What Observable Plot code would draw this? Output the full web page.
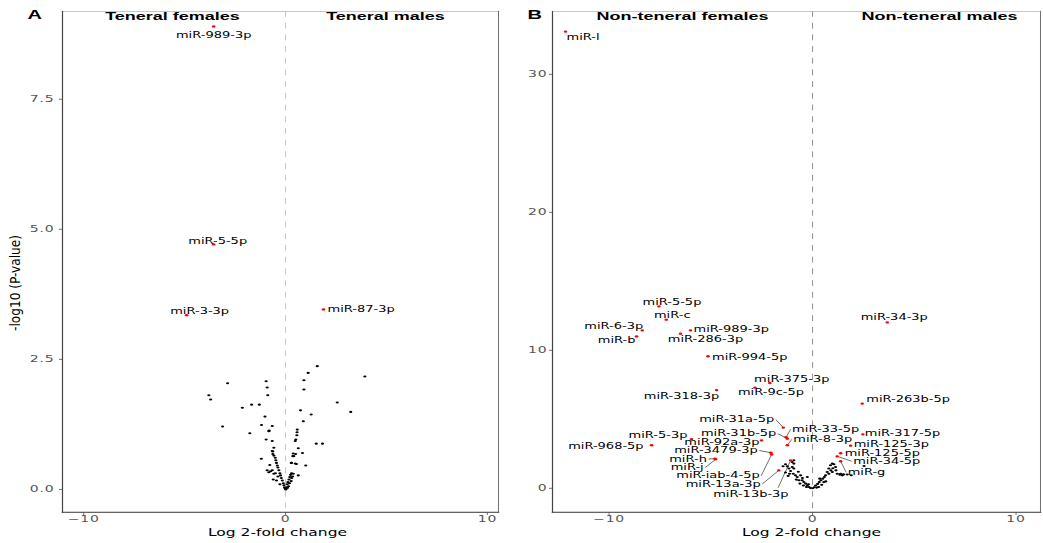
<!DOCTYPE html>
<html><head><meta charset="utf-8">
<script src="https://cdn.jsdelivr.net/npm/d3@7"></script>
<script src="https://cdn.jsdelivr.net/npm/@observablehq/plot@0.6"></script>
<style>
body{margin:0;background:#fff;}
#wrap{position:relative;width:1043px;height:543px;overflow:hidden;background:#fff;}
.panel{position:absolute;top:0;}
.panel svg{transform:scaleY(0.65);transform-origin:0 0;display:block;}
g[aria-label="x-axis tick label"] text, g[aria-label="y-axis tick label"] text{letter-spacing:0.8px;}
#ytitle{position:absolute;left:15px;top:283px;transform:translate(-50%,-50%) rotate(-90deg);font:13.5px "Liberation Sans Narrow","DejaVu Sans Condensed";white-space:nowrap;color:#000;}
</style></head><body>
<div id="wrap">
  <div class="panel" id="pA" style="left:0;width:520px"></div>
  <div class="panel" id="pB" style="left:520px;width:523px"></div>
  <div id="ytitle">-log10 (P-value)</div>
</div>
<script>
// ---------- data ----------
const xTicks = [-10, 0, 10];
const yTicksA = [0, 2.5, 5, 7.5];
const yTicksB = [0, 10, 20, 30];
const xTitle = "Log 2-fold change";
const panelTitlesA = ["Teneral females", "Teneral males"];
const panelTitlesB = ["Non-teneral females", "Non-teneral males"];
const panelLetters = ["A", "B"];

// Panel A: significant (labelled) miRNAs
const sigNamesA = ["miR-989-3p", "miR-5-5p", "miR-3-3p", "miR-87-3p"];
const sigFCA    = [-3.56, -3.56, -4.90, 1.88];
const sigPA     = [8.90, 4.71, 3.35, 3.46];

// Panel A: other miRNAs
const nsFCA = [-3.80,-3.71,-2.87,-3.12,-2.14,-1.68,-1.30,-1.77,-0.96,-0.91,-0.88,-1.02,-1.19,-0.66,-0.81,-0.96,-0.66,-0.58,-0.63,-1.20,-0.78,
  -0.66,-0.63,-0.58,-0.51,-0.48,-0.45,-0.41,-0.38,-0.33,-0.28,-0.25,-0.21,-0.16,-0.11,-0.08,-0.05,0.00,0.05,0.08,0.12,0.17,0.21,0.25,0.30,0.38,
  -0.91,-0.83,-0.74,-0.66,-0.58,-0.50,-0.61,-0.45,-0.38,-0.28,-0.83,
  1.57,1.12,3.93,0.91,0.91,2.56,3.23,0.74,1.27,0.88,0.58,0.57,0.56,0.51,0.48,1.52,1.83,0.63,0.84,0.36,0.41,0.30,0.48,1.00,0.63,0.38,0.50,0.28,0.54,
  0.30,0.35,0.28,0.20,0.15,0.10,0.02,-0.02];
const nsPA = [1.81,1.73,2.04,1.21,1.57,1.63,1.63,1.08,2.08,1.96,1.81,1.40,1.24,1.22,1.13,0.96,0.93,0.80,0.73,0.59,0.47,
  0.74,0.68,0.65,0.61,0.56,0.51,0.46,0.42,0.37,0.31,0.27,0.22,0.17,0.12,0.08,0.04,0.01,0.04,0.10,0.14,0.19,0.24,0.28,0.31,0.30,
  0.37,0.33,0.35,0.37,0.30,0.31,0.19,0.17,0.25,0.10,1.12,
  2.37,2.24,2.17,2.10,1.92,1.67,1.49,1.52,1.44,1.31,1.15,1.10,1.04,0.96,0.93,0.88,0.88,0.79,0.70,0.64,0.64,0.51,0.50,0.46,0.27,0.69,0.68,0.51,0.49,
  0.22,0.25,0.16,0.12,0.06,0.03,0.00,0.02];

// Panel B: significant (labelled) miRNAs
const sigNamesB = ["miR-l","miR-5-5p","miR-c","miR-6-3p","miR-b","miR-989-3p","miR-286-3p","miR-994-5p","miR-375-3p","miR-9c-5p",
  "miR-318-3p","miR-34-3p","miR-263b-5p","miR-317-5p","miR-125-3p","miR-125-5p","miR-34-5p","miR-g","miR-31a-5p","miR-31b-5p",
  "miR-33-5p","miR-8-3p","miR-92a-3p","miR-5-3p","miR-968-5p","miR-3479-3p","miR-iab-4-5p","miR-h","miR-j","miR-13a-3p","miR-13b-3p"];
const sigFCB = [-12.14,-7.55,-7.19,-8.37,-8.65,-6.00,-6.49,-5.14,-2.10,-2.83,
  -4.72,3.67,2.44,2.47,1.87,1.38,1.21,1.38,-1.44,-1.24,
  -1.30,-1.24,-2.51,-5.95,-7.91,-2.05,-2.01,-4.80,-4.76,-1.66,-1.08];
const sigPB = [33.10,13.19,12.22,11.45,11.01,11.45,11.21,9.57,7.63,7.30,
  7.12,12.03,6.14,3.91,3.09,2.54,2.32,1.96,4.40,3.60,
  3.70,3.12,3.48,3.57,3.12,2.58,2.45,2.15,2.10,1.30,2.03];

// Panel B: other miRNAs
const nsFCB = [-1.33,-1.24,-1.16,-1.08,-1.00,-0.95,-1.13,-0.84,-0.75,-0.59,-0.67,-0.51,-0.43,-0.34,-0.26,-0.18,-0.10,0.00,0.08,0.15,
  0.25,0.33,0.41,0.50,0.58,0.64,0.72,0.80,0.88,0.97,1.05,1.13,0.80,0.97,1.21,1.34,1.46,-0.92,-1.00,-1.33,
  -0.80,-0.62,2.53,1.38,1.52,-0.92,-0.92,-0.26,-1.45,-1.20,-0.45,-0.30,0.30,0.45,0.55,0.65,0.90,1.00,1.15,0.20,
  -0.20,-0.50,-0.70,0.35,1.70,1.90];
const nsPB = [1.74,1.59,1.43,1.26,1.55,1.06,1.06,0.94,0.82,0.94,0.58,0.58,0.46,0.34,0.22,0.10,0.02,0.00,0.08,0.20,
  0.32,0.45,0.58,0.70,0.82,0.94,1.18,1.43,1.67,1.79,1.74,1.55,1.06,1.18,1.06,0.99,0.94,2.03,1.91,1.14,
  0.63,0.34,1.62,1.06,1.01,1.79,1.43,0.82,1.60,0.90,0.20,0.10,0.10,0.25,0.45,0.50,1.30,1.45,1.30,0.05,
  0.30,0.75,1.20,0.70,1.00,0.95];

// ---------- layout (screen px offsets of labels from their points) ----------
const s = 0.65;            // vertical compression of the reference figure
const H = 543 / s;
const labelOffsetsA = {
  "miR-989-3p": [0, 9, "middle"],
  "miR-5-5p": [4, -3, "middle"],
  "miR-3-3p": [13, -4, "middle"],
  "miR-87-3p": [4, 0, "start"]
};
const labelOffsetsB = {
  "miR-l": [1, 5.5, "start"],
  "miR-5-5p": [13, -4, "middle"],
  "miR-c": [6, -4, "middle"],
  "miR-6-3p": [1, -4, "end"],
  "miR-b": [-1, 4, "end"],
  "miR-989-3p": [3, -1, "start"],
  "miR-286-3p": [25, 6, "middle"],
  "miR-994-5p": [4, 1, "start"],
  "miR-375-3p": [22, -4, "middle"],
  "miR-9c-5p": [16, 5, "middle"],
  "miR-318-3p": [-35, 6, "middle"],
  "miR-34-3p": [7, -5, "middle"],
  "miR-263b-5p": [4, -4, "start"],
  "miR-317-5p": [2, -1, "start"],
  "miR-125-3p": [3, -1, "start"],
  "miR-125-5p": [4, 0, "start"],
  "miR-34-5p": [16, 5, "start", true],
  "miR-g": [7, 11, "start", true],
  "miR-31a-5p": [-9, -8, "end", true],
  "miR-31b-5p": [-11, -5, "end", true],
  "miR-33-5p": [6, -8, "start", true],
  "miR-8-3p": [6, -6, "start", true],
  "miR-92a-3p": [-2, 1.8, "end"],
  "miR-5-3p": [-4, -4, "end"],
  "miR-968-5p": [-8, 1, "end"],
  "miR-3479-3p": [-13, -2.2, "end", true],
  "miR-iab-4-5p": [-12, 21.2, "end", true],
  "miR-h": [-8, 0.4, "end", true],
  "miR-j": [-12, 8.2, "end", true],
  "miR-13a-3p": [-18, 13.6, "end", true],
  "miR-13b-3p": [-2, 33.5, "end", true, -12, -6]
};

function makePanel(cfg) {
  const mt = 11 / s, mb = (543 - 512) / s;
  const kx = (cfg.width - cfg.ml - cfg.mr) / (cfg.xd[1] - cfg.xd[0]);
  const ky = (H - mt - mb) / (cfg.yd[1] - cfg.yd[0]);
  const black = cfg.nsX.map((x, i) => ({x, y: cfg.nsY[i]}));
  const sig = cfg.names.map((name, i) => {
    const o = cfg.offsets[name] || [4, 0, "start"];
    const x = cfg.sigX[i], y = cfg.sigY[i];
    const lx = x + o[0] / kx, ly = y - (o[1] / s) / ky;
    const sdx = (o[4] || 0) + (o[2] === "end" ? 1.5 : o[2] === "start" ? -1.5 : 0);
    const sdy = o[5] || 0;
    return {name, x, y, lx, ly, anchor: o[2], seg: !!o[3],
      sx: lx + sdx / kx, sy: ly - (sdy / s) / ky};
  });
  const labelFont = {fontFamily: "DejaVu Sans", fontSize: 13, fill: "#000"};
  const marks = [
    Plot.ruleX([0], {stroke: cfg.ruleColor, strokeDasharray: "9,9", strokeWidth: 1}),
    Plot.frame({stroke: "#aaa"}),
    Plot.frame({anchor: "left", stroke: "#444", strokeWidth: 1.2}),
    Plot.frame({anchor: "bottom", stroke: "#444", strokeWidth: 1.6}),
    Plot.frame({anchor: "right", stroke: "#666", strokeWidth: 1}),
    Plot.axisX({ticks: xTicks, tickSize: 4.6, tickPadding: 1, fontSize: 14, fontFamily: "DejaVu Sans", label: null}),
    Plot.axisY({ticks: cfg.yTicks, tickFormat: cfg.yFmt, tickSize: 3, tickPadding: cfg.yPad, fontSize: 14, fontFamily: "DejaVu Sans", label: null}),
    Plot.dot(black, {x: "x", y: "y", r: 1.6, fill: "#000", stroke: "none"}),
    Plot.link(sig.filter(d => d.seg), {x1: "x", y1: "y", x2: "sx", y2: "sy", stroke: "#222", strokeWidth: 0.8}),
    Plot.dot(sig, {x: "x", y: "y", r: 1.8, fill: "#ff0000", stroke: "none"}),
    ...["start", "middle", "end"].map(a =>
      Plot.text(sig.filter(d => d.anchor === a), {x: "lx", y: "ly", text: "name", textAnchor: a, ...labelFont})),
    Plot.text(cfg.titles, {x: (d, i) => cfg.titleX[i], frameAnchor: "top", text: d => d, lineAnchor: "top", dy: 0,
      fontFamily: "Liberation Sans", fontWeight: "bold", fontSize: 18, fill: "#000"}),
    Plot.text([cfg.letter], {frameAnchor: "top-left", text: d => d, textAnchor: "start", lineAnchor: "top", dx: cfg.letterDx, dy: -2.3,
      fontFamily: "Liberation Sans", fontWeight: "bold", fontSize: 20, fill: "#000"}),
    Plot.text([xTitle], {frameAnchor: "bottom", text: d => d, lineAnchor: "middle", dy: 20.5 / s, dx: cfg.xTitleDx,
      fontFamily: "DejaVu Sans", fontSize: 15.5, fill: "#000"})
  ];
  return Plot.plot({
    width: cfg.width, height: H,
    marginLeft: cfg.ml, marginRight: cfg.mr, marginTop: mt, marginBottom: mb,
    x: {domain: cfg.xd}, y: {domain: cfg.yd},
    style: {color: "#555", background: "transparent", overflow: "visible"},
    marks
  });
}

document.getElementById("pA").appendChild(makePanel({
  width: 520, ml: 62, mr: 22, xd: [-11.05, 10.55], yd: [-0.44, 9.19],
  yTicks: yTicksA, yFmt: d3.format(".1f"), yPad: 5, ruleColor: "#bbb",
  titles: panelTitlesA, titleX: [-5.6, 4.95], letter: panelLetters[0], letterDx: -35, xTitleDx: -3,
  names: sigNamesA, sigX: sigFCA, sigY: sigPA, nsX: nsFCA, nsY: nsPA, offsets: labelOffsetsA
}));
document.getElementById("pB").appendChild(makePanel({
  width: 523, ml: 32, mr: 3, xd: [-12.78, 11.2], yd: [-1.74, 34.57],
  yTicks: yTicksB, yFmt: d3.format("d"), yPad: 2, ruleColor: "#777",
  titles: panelTitlesB, titleX: [-6.39, 6.24], letter: panelLetters[1], letterDx: -25, xTitleDx: 15,
  names: sigNamesB, sigX: sigFCB, sigY: sigPB, nsX: nsFCB, nsY: nsPB, offsets: labelOffsetsB
}));
</script>
</body></html>
